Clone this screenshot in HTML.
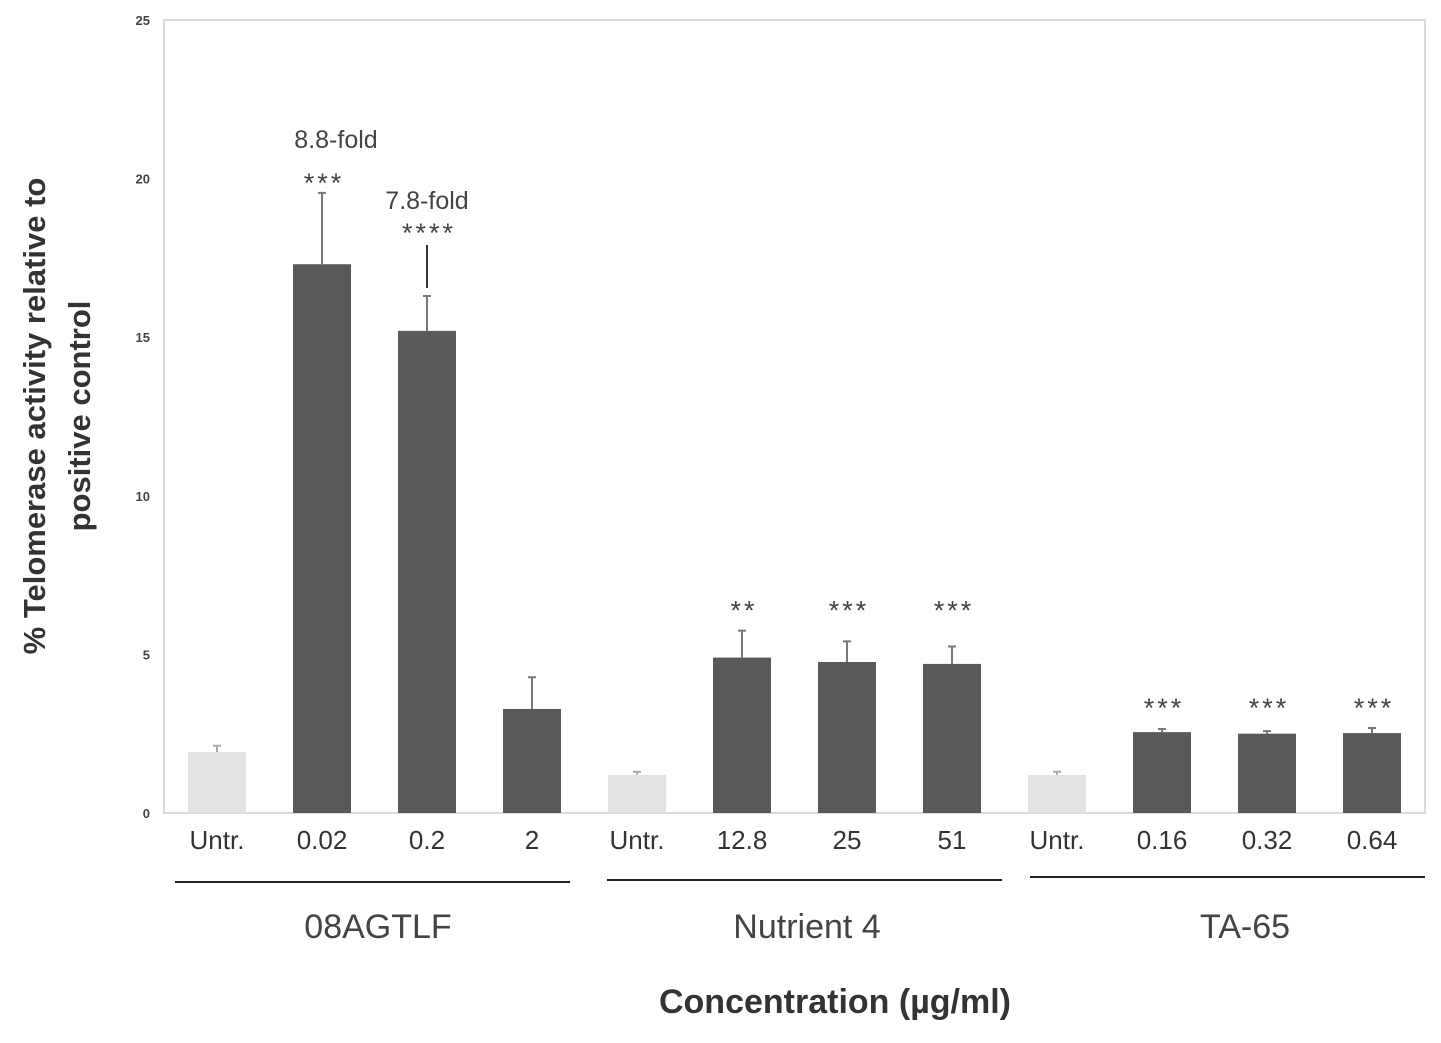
<!DOCTYPE html>
<html><head><meta charset="utf-8"><style>
body{margin:0;background:#fff;width:1441px;height:1038px;overflow:hidden;font-family:"Liberation Sans",sans-serif}
</style></head><body>
<svg id="chart" width="1441" height="1038" xmlns="http://www.w3.org/2000/svg">
<rect x="164" y="20" width="1261" height="793" fill="none" stroke="#dadada" stroke-width="2"/>
<g id="yticks"></g><g id="bars"></g>
<text transform="translate(45,416) rotate(-90)" text-anchor="middle" font-size="31" font-weight="bold" fill="#333"><tspan x="0" dy="0">% Telomerase activity relative to</tspan><tspan x="0" dy="45">positive control</tspan></text>
<line x1="175" y1="882" x2="570" y2="882" stroke="#222" stroke-width="2"/>
<line x1="607" y1="880" x2="1002" y2="880" stroke="#222" stroke-width="2"/>
<line x1="1030" y1="877" x2="1425" y2="877" stroke="#222" stroke-width="2"/>
<text x="378" y="938" text-anchor="middle" font-size="34" fill="#444">08AGTLF</text>
<text x="807" y="938" text-anchor="middle" font-size="34" fill="#444">Nutrient 4</text>
<text x="1245" y="938" text-anchor="middle" font-size="34" fill="#444">TA-65</text>
<text x="835" y="1013" text-anchor="middle" font-size="34" font-weight="bold" fill="#333">Concentration (µg/ml)</text>
<text x="336" y="148" text-anchor="middle" font-size="25" fill="#444">8.8-fold</text>
<text x="427" y="209" text-anchor="middle" font-size="25" fill="#444">7.8-fold</text>
<line x1="427" y1="245" x2="427" y2="288" stroke="#333" stroke-width="2"/>
</svg>
<script>
const categories=["Untr.","0.02","0.2","2","Untr.","12.8","25","51","Untr.","0.16","0.32","0.64"];
const values=[1.92,17.3,15.2,3.28,1.2,4.9,4.76,4.7,1.2,2.55,2.5,2.52];
const errors=[0.2,2.25,1.1,1.0,0.1,0.85,0.65,0.55,0.1,0.1,0.08,0.16];
const stars=["","***","****","","","**","***","***","","***","***","***"];
const untreated=[true,false,false,false,true,false,false,false,true,false,false,false];
const yTicks=[0,5,10,15,20,25];
const NS="http://www.w3.org/2000/svg";
const y=v=>813-v*31.72;
const x=i=>217+i*105;
const yt=document.getElementById('yticks'),bg=document.getElementById('bars');
function mk(tag,attrs,parent,text){const e=document.createElementNS(NS,tag);for(const k in attrs)e.setAttribute(k,attrs[k]);if(text!==undefined)e.textContent=text;parent.appendChild(e);return e;}
yTicks.forEach(t=>{const e=mk('text',{x:150,y:y(t)+5,'text-anchor':'end','font-size':13,'font-weight':'bold',fill:'#444'},yt,String(t));

});
function groupTop(i){const g=Math.floor(i/4)*4;let m=0;for(let k=g;k<g+4;k++)m=Math.max(m,values[k]+errors[k]);return y(m);}
categories.forEach((c,i)=>{
const v=values[i],cx=x(i);
const r=mk('rect',{x:cx-29,y:y(v),width:58,height:y(0)-y(v),fill:untreated[i]?'#e3e3e3':'#595959'},bg);


const et=y(v+errors[i]);
const l=mk('path',{d:`M${cx},${y(v)}V${et}M${cx-4},${et}H${cx+4}`,stroke:untreated[i]?'#aaa':'#777','stroke-width':2,fill:'none'},bg);


const t=mk('text',{x:cx,y:849,'text-anchor':'middle','font-size':26,fill:'#333'},bg,c);


if(stars[i]){const sc=i===1?178:i===2?228:groupTop(i)-25;
const s=mk('text',{x:cx+2,y:sc+14,'text-anchor':'middle','font-size':27,'letter-spacing':'3',fill:'#444'},bg,stars[i]);

}
});
</script>
</body></html>
